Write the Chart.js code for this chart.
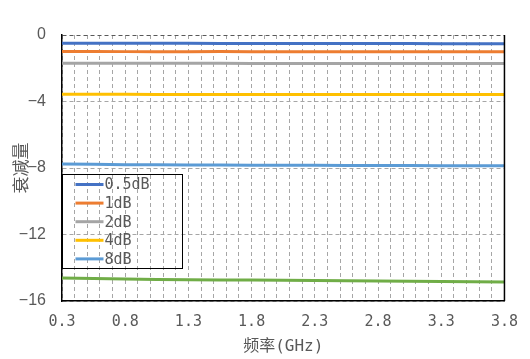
<!DOCTYPE html>
<html>
<head>
<meta charset="utf-8">
<script src="https://cdn.jsdelivr.net/npm/chart.js@4/dist/chart.umd.min.js"></script>
<style>
  html, body { margin: 0; padding: 0; background: #ffffff; }
  canvas { display: block; }
</style>
</head>
<body>
<canvas id="c" width="530" height="359"></canvas>
<script>
// Frequency sample points (GHz)
const freqs = [0.3, 0.8, 1.3, 1.8, 2.3, 2.8, 3.3, 3.8];

// Measured attenuation (dB) for each attenuator setting
const att05 = [-0.50, -0.50, -0.50, -0.51, -0.51, -0.51, -0.52, -0.52];
const att1  = [-0.99, -1.00, -1.00, -1.00, -1.01, -1.01, -1.01, -1.01];
const att2  = [-1.70, -1.70, -1.70, -1.71, -1.71, -1.71, -1.72, -1.72];
const att4  = [-3.57, -3.57, -3.58, -3.58, -3.58, -3.58, -3.58, -3.58];
const att8  = [-7.76, -7.80, -7.82, -7.83, -7.84, -7.85, -7.86, -7.87];
const att16 = [-14.62, -14.68, -14.72, -14.74, -14.77, -14.80, -14.83, -14.86];

const seriesNames = ['0.5dB', '1dB', '2dB', '4dB', '8dB', '16dB'];
const seriesValues = [att05, att1, att2, att4, att8, att16];
const seriesColors = ['#4472C4', '#ED7D31', '#A5A5A5', '#FFC000', '#5B9BD5', '#70AD47'];

// Labelled x ticks; unlabelled grid ticks every 0.1 GHz in between
const xTickLabels = ['0.3', '0.8', '1.3', '1.8', '2.3', '2.8', '3.3', '3.8'];
const xGridTicks = [0.3,0.4,0.5,0.6,0.7,0.8,0.9,1.0,1.1,1.2,1.3,1.4,1.5,1.6,1.7,1.8,1.9,2.0,
  2.1,2.2,2.3,2.4,2.5,2.6,2.7,2.8,2.9,3.0,3.1,3.2,3.3,3.4,3.5,3.6,3.7,3.8];
const yTicks = [0, -4, -8, -12, -16];

const legendCount = 5;   // the boxed legend lists the first five settings
const monoFont = '"DejaVu Sans Mono", "Liberation Mono", monospace';

const datasets = seriesNames.map((name, i) => ({
  label: name,
  data: freqs.map((f, j) => ({ x: f, y: seriesValues[i][j] })),
  borderColor: seriesColors[i],
  backgroundColor: seriesColors[i],
  borderWidth: 3,
  pointRadius: 0,
  tension: 0.3,
  fill: false
}));

// Boxed legend drawn inside the plot area, plus the right frame edge
const boxLegend = {
  id: 'boxLegend',
  afterDraw(chart) {
    const { ctx, chartArea } = chart;
    ctx.save();
    ctx.strokeStyle = '#000000';
    ctx.lineWidth = 1.5;
    ctx.beginPath();
    ctx.moveTo(chartArea.right, chartArea.top);
    ctx.lineTo(chartArea.right, chartArea.bottom);
    ctx.stroke();

    const bx = chartArea.left + 0.5, by = chartArea.top + 139.5;
    const bw = 120, bh = 94;
    ctx.lineWidth = 1;
    ctx.strokeStyle = '#000000';
    ctx.strokeRect(bx, by, bw, bh);

    ctx.font = '15px ' + monoFont;
    ctx.textBaseline = 'middle';
    ctx.textAlign = 'left';
    for (let i = 0; i < legendCount; i++) {
      const ds = chart.data.datasets[i];
      const y = by + 10 + i * 18.6;
      ctx.strokeStyle = ds.borderColor;
      ctx.lineWidth = 3;
      ctx.beginPath();
      ctx.moveTo(bx + 13, y);
      ctx.lineTo(bx + 41, y);
      ctx.stroke();
      ctx.fillStyle = '#595959';
      ctx.fillText(ds.label, bx + 42, y + 1);
    }
    ctx.restore();
  }
};

new Chart(document.getElementById('c'), {
  type: 'line',
  data: { datasets },
  options: {
    responsive: false,
    animation: false,
    devicePixelRatio: 1,
    layout: { padding: { left: 0, right: 23, top: 35, bottom: 3 } },
    plugins: {
      legend: { display: false },
      tooltip: { enabled: false }
    },
    scales: {
      x: {
        type: 'linear',
        min: 0.3,
        max: 3.8,
        afterBuildTicks(scale) {
          scale.ticks = xGridTicks.map(v => ({ value: v }));
        },
        afterFit(scale) { scale.height = 55; },
        ticks: {
          autoSkip: false,
          maxRotation: 0,
          padding: 12,
          color: '#595959',
          font: { family: monoFont, size: 15 },
          callback(v) {
            const s = (Math.round(v * 10) / 10).toFixed(1);
            return xTickLabels.includes(s) ? s : '';
          }
        },
        grid: {
          drawTicks: false,
          color: '#a6a6a6',
          lineWidth: 1
        },
        border: { display: true, color: '#000000', width: 1.5, dash: [4, 3] },
        title: {
          display: true,
          text: '频率(GHz)',
          color: '#595959',
          font: { family: monoFont + ', "Noto Sans CJK SC"', size: 16 },
          padding: { top: 0, bottom: 0 }
        }
      },
      y: {
        min: -16,
        max: 0,
        afterFit(scale) { scale.width = 62; },
        afterBuildTicks(scale) {
          scale.ticks = yTicks.map(v => ({ value: v }));
        },
        ticks: {
          padding: 16,
          color: '#595959',
          font: { family: '"Liberation Sans", Arial, sans-serif', size: 16 },
          callback(v) { return v < 0 ? '\u2212' + Math.abs(v) : String(v); }
        },
        grid: {
          drawTicks: false,
          color(ctx) { return ctx.tick && ctx.tick.value === 0 ? '#595959' : '#a6a6a6'; },
          lineWidth: 1
        },
        border: { display: true, color: '#000000', width: 1.5, dash: [4, 3] },
        title: {
          display: true,
          text: '衰减量',
          color: '#595959',
          font: { family: '"Noto Sans CJK SC", sans-serif', size: 17 },
          padding: { top: 10, bottom: 0 }
        }
      }
    }
  },
  plugins: [boxLegend]
});
</script>
</body>
</html>
